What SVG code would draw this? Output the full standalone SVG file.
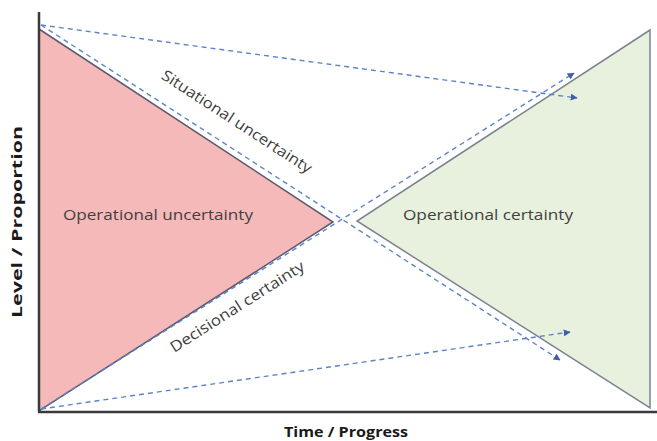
<svg xmlns="http://www.w3.org/2000/svg" width="657" height="441" viewBox="0 0 657 441">
<style>
.lbl{font-family:"Open Sans","Liberation Sans",sans-serif;font-size:15px;fill:#404040}
.ax{font-family:"Open Sans","Liberation Sans",sans-serif;font-size:15px;font-weight:bold;fill:#1a1a1a}
.dash{fill:none;stroke:#5b84c8;stroke-width:1.4;stroke-dasharray:5 4;marker-end:url(#ah)}
</style>
<defs>
<marker id="ah" viewBox="0 0 10 10" refX="9" refY="5" markerWidth="7" markerHeight="7" orient="auto" markerUnits="userSpaceOnUse">
<path d="M0,0 L10,5 L0,10 z" fill="#3f5fa8"/>
</marker>
</defs>
<rect width="657" height="441" fill="#ffffff"/>
<g id="red-triangle">
<polygon points="39,29 333,222 39,411" fill="#f6b9b9" stroke="#5a5a6e" stroke-width="1.5"/>
<text class="lbl" x="158" y="220" text-anchor="middle" textLength="190" lengthAdjust="spacingAndGlyphs">Operational uncertainty</text>
</g>
<g id="green-triangle">
<polygon points="650,30 357,221 650,408" fill="#e8f0de" stroke="#7d8290" stroke-width="1.5"/>
<text class="lbl" x="488" y="220" text-anchor="middle" textLength="170" lengthAdjust="spacingAndGlyphs">Operational certainty</text>
</g>
<g id="axes" stroke="#3a3a3a" stroke-width="2.5" fill="none">
<line x1="39" y1="12" x2="39" y2="412"/>
<line x1="38" y1="412" x2="657" y2="412"/>
</g>
<g id="connectors">
<line class="dash" x1="41" y1="25" x2="560" y2="360"/>
<line class="dash" x1="41" y1="409" x2="574" y2="73"/>
<line class="dash" x1="41" y1="25" x2="577" y2="98"/>
<line class="dash" x1="41" y1="409" x2="570" y2="332"/>
</g>
<g id="line-labels">
<text class="lbl" transform="translate(234,126) rotate(33)" text-anchor="middle" textLength="176" lengthAdjust="spacingAndGlyphs">Situational uncertainty</text>
<text class="lbl" transform="translate(240,311) rotate(-32.5)" text-anchor="middle" textLength="156" lengthAdjust="spacingAndGlyphs">Decisional certainty</text>
</g>
<g id="axis-labels">
<text class="ax" transform="translate(22,222) rotate(-90)" text-anchor="middle" textLength="192" lengthAdjust="spacingAndGlyphs">Level / Proportion</text>
<text class="ax" x="346" y="437" text-anchor="middle" textLength="124" lengthAdjust="spacingAndGlyphs">Time / Progress</text>
</g>
</svg>
